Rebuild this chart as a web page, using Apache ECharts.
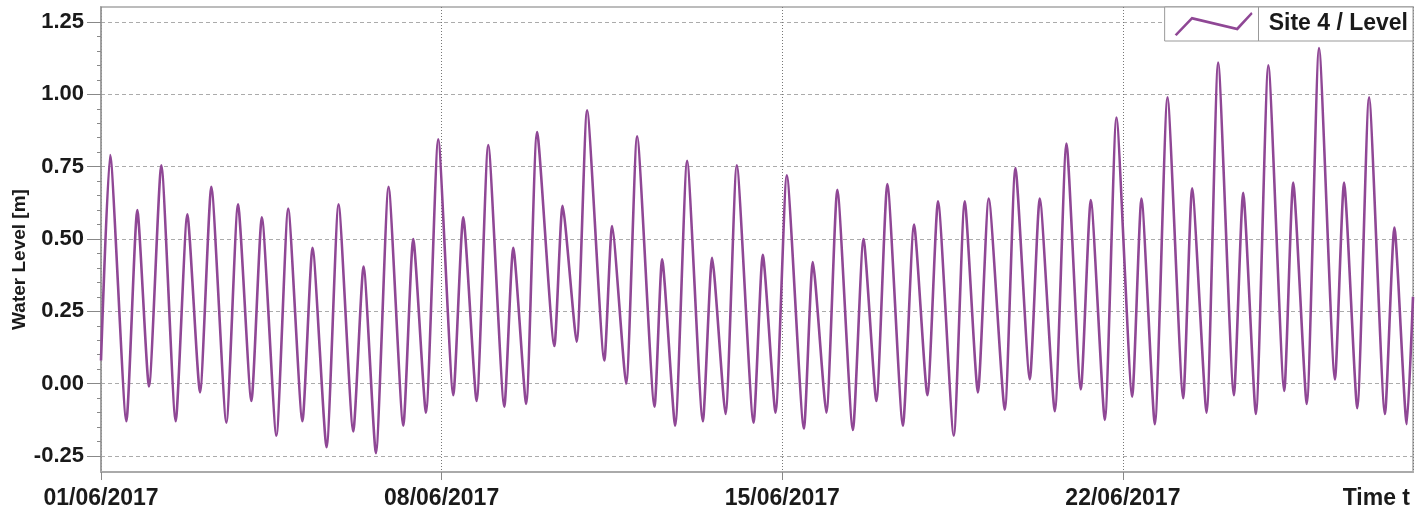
<!DOCTYPE html>
<html>
<head>
<meta charset="utf-8">
<title>Site 4 / Level</title>
<script src="https://cdn.jsdelivr.net/npm/echarts@6/dist/echarts.min.js"></script>
<style>
	html, body { margin: 0; padding: 0; background: #fff; }
	#levelDiv { width: 1415px; height: 517px; }
</style>
</head>
<body>
<div id="levelDiv"></div>
<script type="text/javascript">
	// high / low water turning points (June 2017)
	var times = [
		'2017-06-01 00:00', '2017-06-01 04:30', '2017-06-01 12:30', '2017-06-01 17:55', '2017-06-01 23:40',
		'2017-06-02 05:45', '2017-06-02 12:50', '2017-06-02 18:35',
		'2017-06-03 00:50', '2017-06-03 06:25', '2017-06-03 13:50', '2017-06-03 19:35',
		'2017-06-04 02:10', '2017-06-04 07:20', '2017-06-04 14:30', '2017-06-04 20:20',
		'2017-06-05 03:20', '2017-06-05 08:20', '2017-06-05 15:15', '2017-06-05 21:10',
		'2017-06-06 04:25', '2017-06-06 09:30', '2017-06-06 15:35', '2017-06-06 21:50',
		'2017-06-07 05:05', '2017-06-07 10:00', '2017-06-07 16:15', '2017-06-07 22:20',
		'2017-06-08 05:45', '2017-06-08 10:40', '2017-06-08 17:15', '2017-06-08 23:00',
		'2017-06-09 06:55', '2017-06-09 11:20', '2017-06-09 17:40', '2017-06-09 23:05',
		'2017-06-10 07:35', '2017-06-10 11:40', '2017-06-10 18:35', '2017-06-10 23:45',
		'2017-06-11 08:15', '2017-06-11 12:05', '2017-06-11 19:00',
		'2017-06-12 00:25', '2017-06-12 09:00', '2017-06-12 12:45', '2017-06-12 19:10',
		'2017-06-13 01:05', '2017-06-13 08:50', '2017-06-13 13:25', '2017-06-13 20:00',
		'2017-06-14 01:35', '2017-06-14 09:50', '2017-06-14 14:25', '2017-06-14 20:40',
		'2017-06-15 02:15', '2017-06-15 10:40', '2017-06-15 15:05', '2017-06-15 21:45',
		'2017-06-16 03:10', '2017-06-16 10:50', '2017-06-16 16:05', '2017-06-16 22:25',
		'2017-06-17 03:50', '2017-06-17 11:30', '2017-06-17 17:00', '2017-06-17 23:35',
		'2017-06-18 04:50', '2017-06-18 12:35', '2017-06-18 18:00',
		'2017-06-19 00:30', '2017-06-19 05:50', '2017-06-19 13:45', '2017-06-19 19:00',
		'2017-06-20 02:05', '2017-06-20 07:00', '2017-06-20 14:25', '2017-06-20 20:10',
		'2017-06-21 03:15', '2017-06-21 08:10', '2017-06-21 15:05', '2017-06-21 20:50',
		'2017-06-22 04:35', '2017-06-22 09:10', '2017-06-22 15:45', '2017-06-22 22:00',
		'2017-06-23 05:45', '2017-06-23 10:10', '2017-06-23 17:15', '2017-06-23 23:00',
		'2017-06-24 06:45', '2017-06-24 11:20', '2017-06-24 17:35', '2017-06-24 23:45',
		'2017-06-25 07:35', '2017-06-25 12:00', '2017-06-25 18:40',
		'2017-06-26 00:45', '2017-06-26 08:35', '2017-06-26 13:05', '2017-06-26 19:35',
		'2017-06-27 01:25', '2017-06-27 09:15', '2017-06-27 13:55', '2017-06-27 20:00', '2017-06-27 23:05'
	];
	var levels = [
		0.08, 0.79, -0.13, 0.60, -0.01,
		0.755, -0.13, 0.585,
		-0.03, 0.68, -0.135, 0.62,
		-0.06, 0.575, -0.18, 0.605,
		-0.13, 0.47, -0.22, 0.62,
		-0.165, 0.405, -0.24, 0.68,
		-0.145, 0.50, -0.10, 0.845,
		-0.04, 0.575, -0.06, 0.825,
		-0.08, 0.47, -0.07, 0.87,
		0.13, 0.615, 0.145, 0.945,
		0.08, 0.545, 0.00,
		0.855, -0.08, 0.43, -0.145,
		0.77, -0.13, 0.435, -0.105,
		0.755, -0.135, 0.445, -0.10,
		0.72, -0.155, 0.42, -0.10,
		0.67, -0.16, 0.50, -0.06,
		0.69, -0.145, 0.55, -0.04,
		0.63, -0.18, 0.63,
		-0.03, 0.64, -0.09, 0.745,
		0.015, 0.64, -0.095, 0.83,
		-0.02, 0.635, -0.125, 0.92,
		-0.045, 0.64, -0.14, 0.99,
		-0.05, 0.675, -0.10, 1.11,
		-0.04, 0.66, -0.105, 1.10,
		-0.025, 0.695, -0.07,
		1.16, 0.015, 0.695, -0.085,
		0.99, -0.105, 0.54, -0.14, 0.30
	];
	var seriesName = 'Site 4 / Level';
	var yAxisName = 'Water Level [m]';
	var xAxisName = 'Time t';

	var WEEK = 7 * 24 * 3600 * 1000;
	var lineColor = '#8f4795';
	var fontFamily = '"Liberation Sans", Arial, sans-serif';

	function toUTC(s) {
		var p = s.split(/[- :]/);
		return Date.UTC(+p[0], +p[1] - 1, +p[2], +p[3], +p[4]);
	}
	function pad(n) {
		return n < 10 ? '0' + n : '' + n;
	}

	var seriesData = [];
	for (var i = 0; i < times.length; i++) {
		seriesData.push([toUTC(times[i]), levels[i]]);
	}
	var xMin = Date.UTC(2017, 5, 1);
	var xMax = seriesData[seriesData.length - 1][0];

	var option = {
		animation : false,
		backgroundColor : '#fff',
		textStyle : {
			fontFamily : fontFamily
		},
		legend : {
			data : [ seriesName ],
			right : 2,
			top : 7,
			padding : [ 5, 5, 5, 10 ],
			itemWidth : 78,
			itemHeight : 24,
			icon : 'path://M0,22.6 L17,4.8 L62,15.6 L76.6,0 L78,2 L63,18.6 L17.6,7.8 L2,24 Z',
			borderColor : '#999',
			borderWidth : 1,
			backgroundColor : '#fff',
			selectedMode : false,
			textStyle : {
				fontSize : 23,
				fontWeight : 'bold',
				color : '#1a1a1a',
				padding : [ 0, 0, 0, 11 ]
			}
		},
		graphic : [ {
			type : 'line',
			z : 100,
			shape : { x1 : 1258.5, y1 : 7, x2 : 1258.5, y2 : 41 },
			style : { stroke : '#999', lineWidth : 1 }
		} ],
		grid : [
			{ left : 101, right : 2, top : 22, bottom : 61 },
			{ left : 101, right : 2, top : 7, bottom : 45, show : true, borderColor : '#bcbcbc', borderWidth : 2 }
		],
		xAxis : [ {
			gridIndex : 0,
			type : 'value',
			min : xMin,
			max : xMax,
			interval : WEEK,
			show : false
		}, {
			gridIndex : 1,
			type : 'value',
			min : xMin,
			max : xMax,
			interval : WEEK,
			axisLine : {
				onZero : false,
				lineStyle : { color : '#aaa', width : 2 }
			},
			axisTick : {
				length : 8,
				lineStyle : { color : '#888' }
			},
			axisLabel : {
				margin : 15,
				showMaxLabel : false,
				fontSize : 23,
				fontWeight : 'bold',
				color : '#1a1a1a',
				formatter : function(v) {
					if ((v - xMin) % WEEK !== 0) {
						return '';
					}
					var d = new Date(v);
					return pad(d.getUTCDate()) + '/' + pad(d.getUTCMonth() + 1) + '/' + d.getUTCFullYear();
				}
			},
			splitLine : {
				show : true,
				lineStyle : { type : [ 1, 2 ], color : '#777' }
			},
			name : xAxisName,
			nameLocation : 'end',
			nameGap : -3,
			nameTextStyle : {
				fontSize : 23,
				fontWeight : 'bold',
				color : '#1a1a1a',
				align : 'right',
				verticalAlign : 'top',
				padding : [ 15, 0, 0, 0 ]
			}
		} ],
		yAxis : [ {
			gridIndex : 0,
			type : 'value',
			min : -0.25,
			max : 1.25,
			interval : 0.25,
			axisLine : { show : false },
			axisTick : {
				show : true,
				length : 14,
				lineStyle : { color : '#888' }
			},
			minorTick : {
				show : true,
				splitNumber : 5,
				length : 4,
				lineStyle : { color : '#888' }
			},
			axisLabel : {
				margin : 17,
				fontSize : 22,
				fontWeight : 'bold',
				color : '#1a1a1a',
				formatter : function(v) {
					return v.toFixed(2);
				}
			},
			splitLine : {
				show : true,
				lineStyle : { type : [ 4, 3 ], color : '#ababab' }
			}
		}, {
			gridIndex : 1,
			type : 'value',
			min : 0,
			max : 1,
			axisLine : {
				show : true,
				lineStyle : { color : '#999', width : 1.5 }
			},
			axisTick : { show : false },
			axisLabel : { show : false },
			splitLine : { show : false },
			name : yAxisName,
			nameLocation : 'middle',
			nameGap : 72,
			nameTextStyle : {
				fontSize : 19,
				fontWeight : 'bold',
				color : '#1a1a1a',
				padding : [ 0, 40, 0, 0 ]
			}
		} ],
		series : [ {
			name : seriesName,
			type : 'line',
			xAxisIndex : 0,
			yAxisIndex : 0,
			data : seriesData,
			showSymbol : false,
			smooth : 0.2,
			clip : false,
			lineStyle : { color : lineColor, width : 2.6 },
			itemStyle : { color : lineColor }
		} ]
	};

	var levelChart = echarts.init(document.getElementById('levelDiv'));
	levelChart.setOption(option);
</script>
</body>
</html>
